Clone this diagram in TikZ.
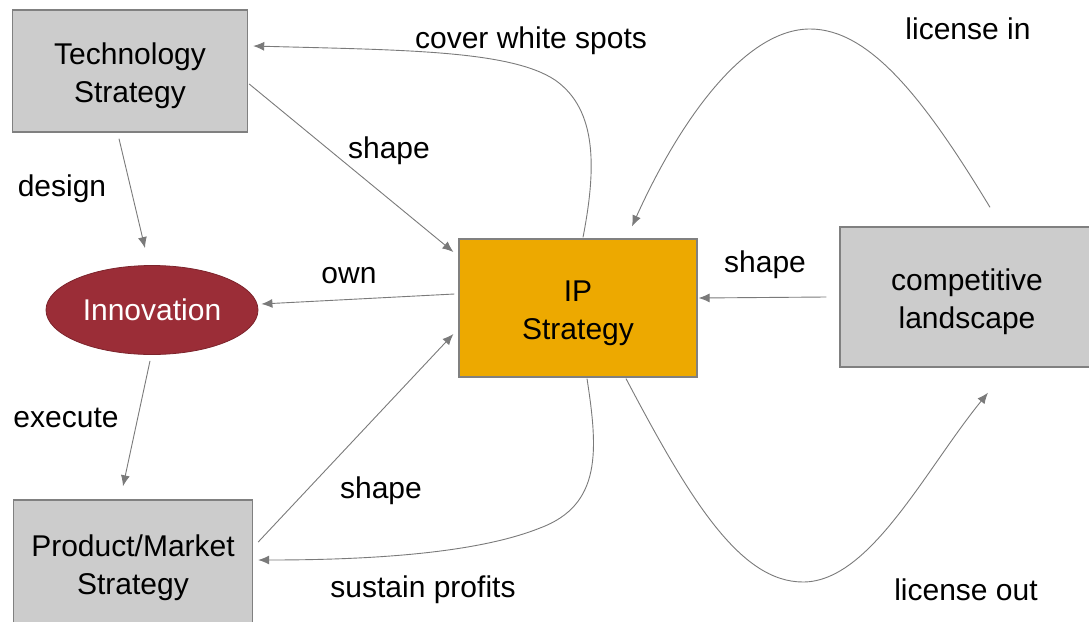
\documentclass[tikz,border=0pt]{standalone}
\usepackage{fontspec}
\setmainfont{Liberation Sans}
\usetikzlibrary{calc,arrows.meta,shapes.geometric}
\definecolor{boxgray}{HTML}{CCCCCC}
\definecolor{edgegray}{HTML}{808080}
\definecolor{ipgold}{HTML}{EDA900}
\definecolor{innored}{HTML}{9B2D37}
\definecolor{linkgray}{HTML}{7A7A7A}
\begin{document}
\begin{tikzpicture}[x=1pt,y=-1pt,
  every node/.style={font=\fontsize{30}{38}\selectfont, align=center, inner sep=0pt},
  graybox/.style={draw=edgegray, line width=1.4pt, fill=boxgray, rectangle},
  ipbox/.style={draw=edgegray, line width=1.2pt, fill=ipgold, rectangle},
  innoshape/.style={ellipse, fill=innored, draw=innored!80!black, line width=0.8pt, text=white},
  boxtext/.style={label={[yshift=-5pt]center:#1}},
  link/.style={draw=linkgray, line width=0.9pt, -{Latex[length=11pt,width=9pt]}},
  lbl/.style={text=black}]
\useasboundingbox (0,0) rectangle (1089,621);

% main blocks (text placed slightly below centre)
\node[graybox, minimum width=235pt, minimum height=122pt, boxtext={Technology\\Strategy}] (tech) at (130,71) {};
\node[innoshape, minimum width=212pt, minimum height=89pt] (innov) at (152,310) {Innovation};
\node[graybox, minimum width=239pt, minimum height=126pt, boxtext={Product/Market\\Strategy}] (prod) at (133,563) {};
\node[ipbox, minimum width=238pt, minimum height=138pt, boxtext={IP\\Strategy}] (ip) at (578,308) {};
\node[graybox, minimum width=254pt, minimum height=140pt, boxtext={competitive\\landscape}] (land) at (967,297) {};

% connectors
\draw[link] ($(ip.north)+(5,-1)$) .. controls (596,170) and (598,110) .. (555,80)
            .. controls (510,50) and (400,50) .. ($(tech.east)+(5,-25)$);
\draw[link] ($(land.north)+(23,-19)$) .. controls (925,100) and (870,29) .. (810,29)
            .. controls (745,29) and (680,120) .. ($(ip.north)+(54,-12)$);
\draw[link] ($(ip.south)+(48,1)$) .. controls (690,500) and (740,582) .. (803,582)
            .. controls (870,582) and (925,470) .. ($(land.south)+(21,25)$);
\draw[link] ($(ip.south)+(9,1)$) .. controls (598,450) and (602,505) .. (540,528)
            .. controls (480,552) and (380,560) .. ($(prod.east)+(5,-3)$);
\draw[link] ($(prod.east)+(5,-21)$) -- ($(ip.west)+(-5,26)$);
\draw[link] ($(tech.east)+(1,13)$) -- ($(ip.west)+(-5,-56)$);
\draw[link] ($(ip.west)+(-4,-14)$) -- ($(innov.east)+(3,-6)$);
\draw[link] ($(land.west)+(-13,0)$) -- ($(ip.east)+(1,-10)$);
\draw[link] ($(tech.south)+(-11,6)$) -- ($(innov.north)+(-7,-17)$);
\draw[link] ($(innov.south)+(-2,6)$) -- ($(prod.north)+(-10,-13)$);

% edge labels
\node[lbl] (lcover) at (531,41) {cover white spots};
\node[lbl] (llicin) at (968,29) {license in};
\node[lbl] (lshape1) at (389,151) {shape};
\node[lbl] (ldesign) at (62,189) {design};
\node[lbl] (lown) at (349,276) {own};
\node[lbl] (lshape2) at (765,265) {shape};
\node[lbl] (lexec) at (66,418) {execute};
\node[lbl] (lshape3) at (381,491) {shape};
\node[lbl] (lsustain) at (423,590) {sustain profits};
\node[lbl] (llicout) at (966,590) {license out};
\end{tikzpicture}
\end{document}
